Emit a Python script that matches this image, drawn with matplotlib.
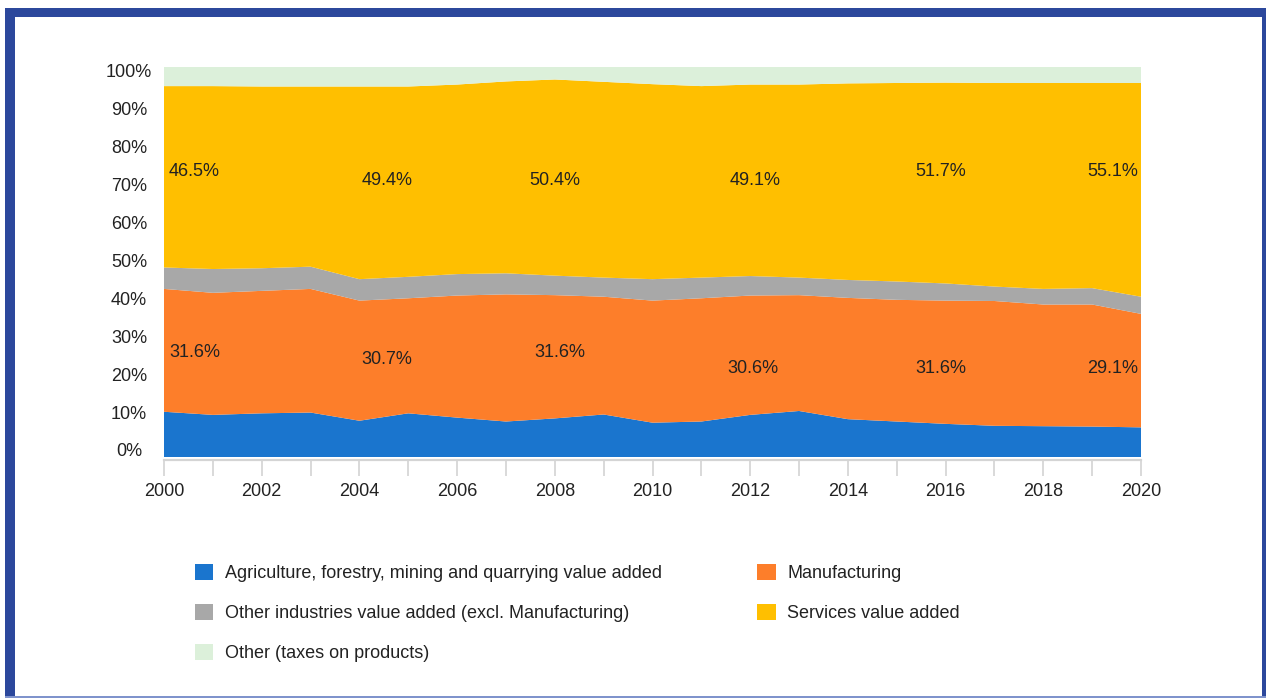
import numpy as np
import matplotlib
matplotlib.use("Agg")
import matplotlib.pyplot as plt
from matplotlib.patches import Patch, Rectangle

plt.rcParams["font.family"] = ["Liberation Sans", "DejaVu Sans"]

years = list(range(2000, 2021))

# shares of GDP in %
agri = [11.6, 10.8, 11.2, 11.4, 9.3, 11.2, 10.1, 9.1, 9.9, 10.9, 8.8,
        9.1, 10.8, 11.8, 9.7, 9.1, 8.5, 8.0, 7.9, 7.8, 7.6]
manuf = [31.5, 31.3, 31.4, 31.7, 30.8, 29.5, 31.3, 32.6, 31.6, 30.2, 31.3,
         31.6, 30.6, 29.7, 31.1, 31.2, 31.6, 32.0, 31.2, 31.3, 29.1]
other_ind = [5.5, 6.1, 5.8, 5.7, 5.5, 5.5, 5.5, 5.4, 5.0, 4.9, 5.5,
             5.3, 5.0, 4.5, 4.6, 4.7, 4.4, 3.7, 4.0, 4.2, 4.4]
services = [46.5, 46.9, 46.6, 46.2, 49.4, 48.8, 48.6, 49.2, 50.3, 50.2, 50.0,
            49.1, 49.1, 49.5, 50.4, 50.9, 51.5, 52.2, 52.8, 52.6, 54.8]
taxes = [4.9, 4.9, 5.0, 5.0, 5.0, 5.0, 4.5, 3.7, 3.2, 3.8, 4.4,
         4.9, 4.5, 4.5, 4.2, 4.1, 4.0, 4.1, 4.1, 4.1, 4.1]

labels = ["Agriculture, forestry, mining and quarrying value added",
          "Manufacturing",
          "Other industries value added (excl. Manufacturing)",
          "Services value added",
          "Other (taxes on products)"]
colors = ["#1A75CE", "#FD7E2A", "#A8A8A8", "#FFBF00", "#DCF0DA"]

# annotated values: (x, y, text, horizontal alignment)
services_notes = [(2000.1, 73.1, "46.5%", "left"), (2004.56, 70.8, "49.4%", "center"),
                  (2008.0, 70.8, "50.4%", "center"), (2012.1, 70.8, "49.1%", "center"),
                  (2015.9, 73.1, "51.7%", "center"), (2019.95, 73.1, "55.1%", "right")]
manuf_notes = [(2000.1, 26.9, "31.6%", "left"), (2004.56, 25.1, "30.7%", "center"),
               (2008.1, 26.9, "31.6%", "center"), (2012.05, 22.8, "30.6%", "center"),
               (2015.9, 22.8, "31.6%", "center"), (2019.95, 22.8, "29.1%", "right")]

fig = plt.figure(figsize=(12.66, 6.98), dpi=100)
ax = fig.add_axes([164 / 1266, 241 / 698, 977 / 1266, 390 / 698])

ax.stackplot(years, agri, manuf, other_ind, services, taxes,
             colors=colors, linewidth=0)

for x, y, t, ha in services_notes + manuf_notes:
    ax.text(x, y, t, ha=ha, va="center", fontsize=13, color="#222222")

ax.set_xlim(2000, 2020)
ax.set_ylim(0, 100)

for s in ["top", "left", "right"]:
    ax.spines[s].set_visible(False)
ax.spines["bottom"].set_position(("outward", 2))
ax.spines["bottom"].set_color("#D4D4D4")
ax.spines["bottom"].set_linewidth(1.6)

ax.set_xticks(years)
ax.set_xticklabels([str(y) if y % 2 == 0 else "" for y in years])
ax.tick_params(axis="x", length=11.5, width=1.1, color="#D0D0D0", pad=5.5,
               labelsize=13, labelcolor="#222222")

yt = np.linspace(1.8, 99.0, 11)
ax.set_yticks(yt)
ax.set_yticklabels([f"{i * 10}%" for i in range(11)])
ax.tick_params(axis="y", length=0, pad=25.2, labelsize=13, labelcolor="#222222")
for lab in ax.get_yticklabels():
    lab.set_ha("center")

handles = [Patch(facecolor=c, edgecolor="none") for c in colors]
order = [0, 2, 4, 1, 3]
fig.legend([handles[i] for i in order], [labels[i] for i in order],
           loc="upper left", bbox_to_anchor=(195 / 1266, 1 - 564 / 698),
           ncol=2, frameon=False, fontsize=13, handlelength=1.0, handleheight=1.0,
           handletextpad=0.65, columnspacing=5.3, labelspacing=1.2, borderpad=0,
           borderaxespad=0, labelcolor="#222222")

# blue frame around the figure
frame = "#2C489C"
W, H = 1266, 698
fig.patches.append(Rectangle((5 / W, 1 - 17 / H), 1 - 5 / W, 9 / H, transform=fig.transFigure,
                             facecolor=frame, edgecolor="none"))
fig.patches.append(Rectangle((5 / W, 0), 10 / W, 1 - 8 / H, transform=fig.transFigure,
                             facecolor=frame, edgecolor="none"))
fig.patches.append(Rectangle((1262 / W, 0), 4 / W, 1 - 8 / H, transform=fig.transFigure,
                             facecolor=frame, edgecolor="none"))
fig.patches.append(Rectangle((5 / W, 0), 1 - 5 / W, 2 / H, transform=fig.transFigure,
                             facecolor="#7F93CC", edgecolor="none"))

fig.savefig("out.png", dpi=100)
